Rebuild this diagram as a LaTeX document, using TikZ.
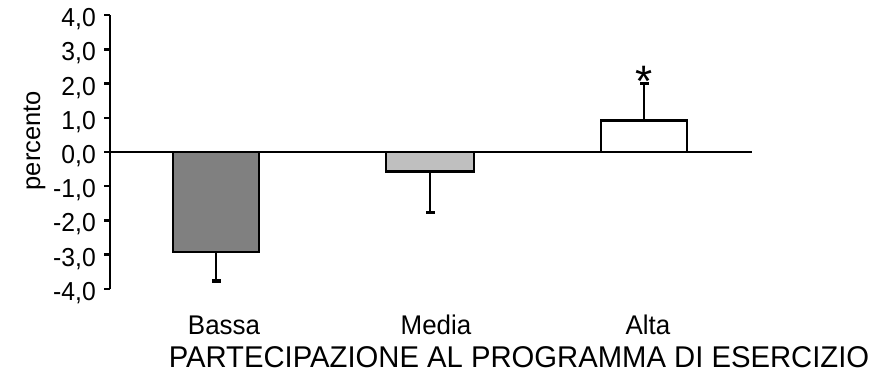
\documentclass[tikz,border=0pt]{standalone}
\usepackage{fontspec}
\setmainfont{Liberation Sans}
\usepackage{graphicx}
\usetikzlibrary{positioning}

\tikzset{
    ticklbl/.style={anchor=east, inner sep=0pt, font=\fontsize{26}{26}\selectfont},
    catlbl/.style={anchor=base, inner sep=0pt, font=\fontsize{27}{27}\selectfont},
    barbox/.style={draw=black, line width=2.4pt},
    errbar/.style={line width=2.4pt},
    errcap/.style={line width=3.5pt},
}

\begin{document}
\begin{tikzpicture}[x=1pt, y=34.2pt]
    \useasboundingbox (0,-6.667) rectangle (884,4.444);
    \begin{scope}
        % Zero line
        \draw[line width=1.7pt] (110,0) -- (752,0);

        % Bars
        \filldraw[barbox, fill=black!50] (173,0) rectangle (259,-2.92);
        \filldraw[barbox, fill=black!25] (386,0) rectangle (474,-0.57);
        \filldraw[barbox, fill=white] (601,0) rectangle (687,0.92);

        % Error bars
        \draw[errbar] (216,-2.92) -- (216,-3.77);
        \draw[errcap] (212,-3.77) -- (221,-3.77);
        \draw[errbar] (430,-0.57) -- (430,-1.77);
        \draw[errcap] (426,-1.77) -- (435,-1.77);
        \draw[errbar] (644,0.92) -- (644,2.0);
        \draw[errcap] (640,2.0) -- (649,2.0);
        \node[anchor=north, inner sep=0pt, font=\fontsize{44}{44}\selectfont] (star) at (644,2.52) {*};

        % Y axis and ticks
        \draw[line width=2.4pt] (110,4) -- (110,-4);
        \foreach \y in {-4,...,4} {
            \draw[line width=2.4pt] (104,\y) -- (110,\y);
            \node[ticklbl] (tick\y) at (96,\y-0.12) {\scalebox{0.95}[1]{\y,0}};
        }
        \node[catlbl, rotate=90, font=\fontsize{25.5}{25.5}\selectfont] (ylbl) at (40,0.33) {percento};

        % Category labels
        \node[catlbl] (bassa) at (224,-5.35) {\scalebox{0.96}[1]{Bassa}};
        \node[catlbl] (media) at (436,-5.35) {\scalebox{0.96}[1]{Media}};
        \node[catlbl] (alta) at (648,-5.35) {\scalebox{0.96}[1]{Alta}};
        \node[catlbl, font=\fontsize{30}{30}\selectfont] (title) at (519,-6.3)
            {\scalebox{0.975}[1]{PARTECIPAZIONE AL PROGRAMMA DI ESERCIZIO}};
    \end{scope}
\end{tikzpicture}
\end{document}
